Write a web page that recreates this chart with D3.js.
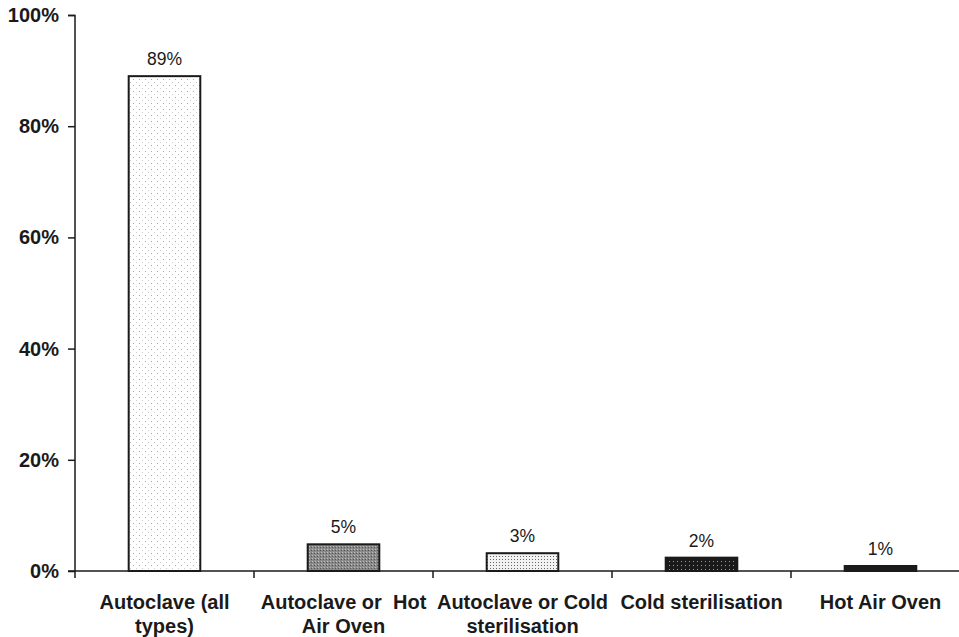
<!DOCTYPE html>
<html>
<head>
<meta charset="utf-8">
<script src="https://cdn.jsdelivr.net/npm/d3@7"></script>
<style>
  body { margin: 0; background: #fff; }
  text { font-family: "Liberation Sans", Arial, sans-serif; fill: #1a1a1a; }
</style>
</head>
<body>
<div id="chart"></div>
<script>
let w = 959;
let h = 637;

// data
let categories = ["Autoclave (all types)", "Autoclave or Hot Air Oven", "Autoclave or Cold sterilisation", "Cold sterilisation", "Hot Air Oven"];
let labelLines = [
	["Autoclave (all", "types)"],
	["Autoclave or  Hot", "Air Oven"],
	["Autoclave or Cold", "sterilisation"],
	["Cold sterilisation"],
	["Hot Air Oven"]
];
let values = [89, 4.8, 3.2, 2.4, 0.9];
let valueLabels = ["89%", "5%", "3%", "2%", "1%"];
let yTicks = [0, 20, 40, 60, 80, 100];
let fills = ["url(#dotsLight)", "url(#greyDense)", "url(#dotsFine)", "url(#blackDots)", "#1a1a1a"];

let viz = d3.select("#chart").append("svg")
	.attr("width", w)
	.attr("height", h)
;

// fill patterns
let defs = viz.append("defs");

let p1 = defs.append("pattern").attr("id", "dotsLight")
	.attr("width", 6).attr("height", 6).attr("patternUnits", "userSpaceOnUse");
p1.append("rect").attr("width", 6).attr("height", 6).attr("fill", "#fff");
p1.append("rect").attr("x", 1).attr("y", 1).attr("width", 1).attr("height", 1).attr("fill", "#aaa");
p1.append("rect").attr("x", 4).attr("y", 4).attr("width", 1).attr("height", 1).attr("fill", "#ccc");

let p2 = defs.append("pattern").attr("id", "greyDense")
	.attr("width", 3).attr("height", 3).attr("patternUnits", "userSpaceOnUse");
p2.append("rect").attr("width", 3).attr("height", 3).attr("fill", "#8a8a8a");
p2.append("rect").attr("x", 0).attr("y", 0).attr("width", 1).attr("height", 1).attr("fill", "#bbb");
p2.append("rect").attr("x", 2).attr("y", 1).attr("width", 1).attr("height", 1).attr("fill", "#555");

let p3 = defs.append("pattern").attr("id", "dotsFine")
	.attr("width", 3).attr("height", 3).attr("patternUnits", "userSpaceOnUse");
p3.append("rect").attr("width", 3).attr("height", 3).attr("fill", "#f2f2f2");
p3.append("rect").attr("x", 1).attr("y", 1).attr("width", 1).attr("height", 1).attr("fill", "#666");

let p4 = defs.append("pattern").attr("id", "blackDots")
	.attr("width", 4).attr("height", 4).attr("patternUnits", "userSpaceOnUse");
p4.append("rect").attr("width", 4).attr("height", 4).attr("fill", "#1a1a1a");
p4.append("rect").attr("x", 1).attr("y", 1).attr("width", 1).attr("height", 1).attr("fill", "#999");

let xScale = d3.scaleBand().domain(categories).range([75, 970]).paddingInner(0.6).paddingOuter(0.3);
let bandScale = d3.scaleBand().domain(categories).range([75, 970]);
let yScale = d3.scaleLinear().domain([0, 100]).range([571, 15]);

// y axis
let yAxis = viz.append("g")
	.attr("transform", "translate(75,0)")
	.call(d3.axisLeft(yScale).tickValues(yTicks).tickSize(7).tickPadding(9).tickFormat(d => d + "%"));
yAxis.selectAll("text")
	.style("font-size", "20px")
	.style("font-weight", "bold")
	.attr("fill", "#1a1a1a");
yAxis.selectAll("line, path").attr("stroke", "#1a1a1a").attr("stroke-width", 1.5);
yAxis.select(".domain").attr("d", "M-7,15.5H0V578");

// x axis line and tick marks between categories
let xAxis = viz.append("g").attr("class", "xAxis");
xAxis.append("line")
	.attr("x1", 68).attr("x2", w)
	.attr("y1", yScale(0)).attr("y2", yScale(0))
	.attr("stroke", "#1a1a1a").attr("stroke-width", 1.5);
xAxis.selectAll(".sep").data(categories.slice(1))
	.enter().append("line")
	.attr("class", "sep")
	.attr("x1", d => bandScale(d)).attr("x2", d => bandScale(d))
	.attr("y1", yScale(0)).attr("y2", yScale(0) + 7)
	.attr("stroke", "#1a1a1a").attr("stroke-width", 1.5);

// bars
let graphGroup = viz.append("g").attr("class", "graphGroup");
graphGroup.selectAll(".bar").data(values)
	.enter().append("rect")
	.attr("class", "bar")
	.attr("x", (d, i) => xScale(categories[i]))
	.attr("y", d => yScale(d))
	.attr("width", xScale.bandwidth())
	.attr("height", d => yScale(0) - yScale(d))
	.attr("fill", (d, i) => fills[i])
	.attr("stroke", "#1a1a1a")
	.attr("stroke-width", 2)
;

// value labels
graphGroup.selectAll(".valueLabel").data(values)
	.enter().append("text")
	.attr("class", "valueLabel")
	.attr("x", (d, i) => xScale(categories[i]) + xScale.bandwidth() / 2)
	.attr("y", d => yScale(d) - 11)
	.attr("text-anchor", "middle")
	.style("font-size", "17.5px")
	.text((d, i) => valueLabels[i])
;

// category labels
let catLabels = viz.selectAll(".catLabel").data(categories)
	.enter().append("text")
	.attr("class", "catLabel")
	.attr("text-anchor", "middle")
	.style("font-size", "20px")
	.style("font-weight", "bold")
	.style("white-space", "pre")
	.attr("transform", d => "translate(" + (bandScale(d) + bandScale.bandwidth() / 2) + ",609)")
;
catLabels.selectAll("tspan").data((d, i) => labelLines[i])
	.enter().append("tspan")
	.attr("x", 0)
	.attr("dy", (d, i) => i === 0 ? 0 : 24)
	.text(d => d)
;
</script>
</body>
</html>
